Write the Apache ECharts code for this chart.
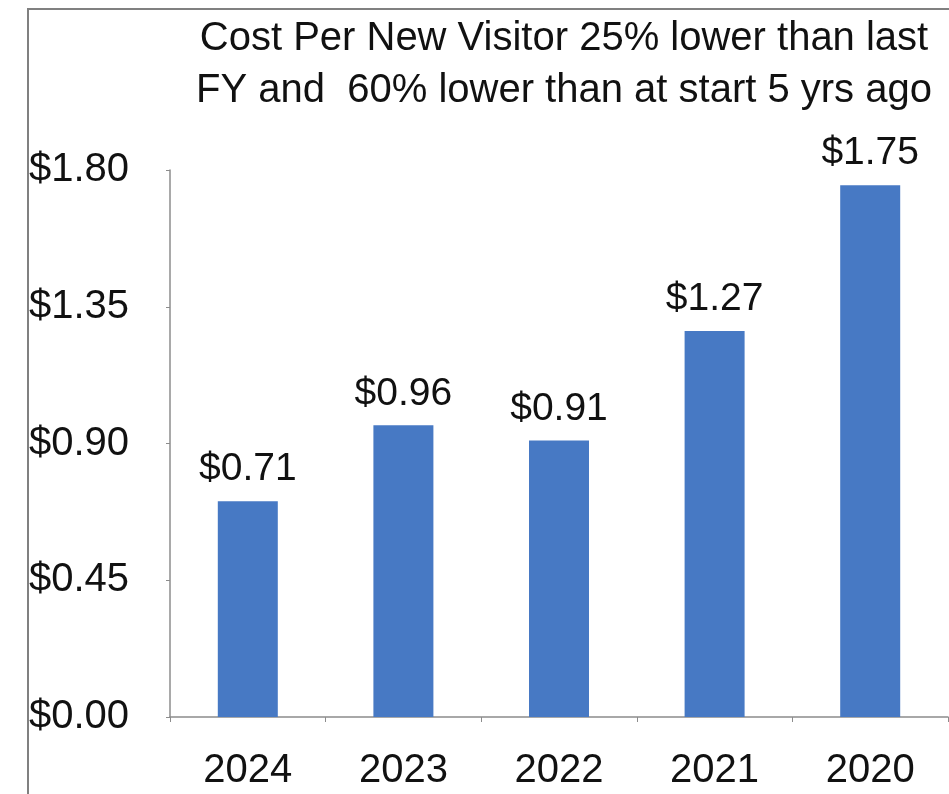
<!DOCTYPE html>
<html>
<head>
<meta charset="utf-8">
<script src="https://cdn.jsdelivr.net/npm/echarts@6/dist/echarts.min.js"></script>
<style>
html,body{margin:0;padding:0;background:#fff;}
#c{width:949px;height:794px;}
</style>
</head>
<body>
<div id="c"></div>
<script>
var categories = ['2024', '2023', '2022', '2021', '2020'];
var costPerVisitor = [0.71, 0.96, 0.91, 1.27, 1.75];
var yTicks = [0, 0.45, 0.9, 1.35, 1.8];
var titleText = 'Cost Per New Visitor 25% lower than last\nFY and  60% lower than at start 5 yrs ago';

var FONT = 'Liberation Sans, Arial, Helvetica, sans-serif';
var chart = echarts.init(document.getElementById('c'), null, {renderer: 'canvas'});
chart.setOption({
  backgroundColor: '#ffffff',
  animation: false,
  title: {
    text: titleText,
    left: 559,
    textAlign: 'center',
    top: 8,
    textStyle: {fontFamily: FONT, fontSize: 40, fontWeight: 'normal', color: '#111', lineHeight: 52}
  },
  graphic: [{
    type: 'rect',
    shape: {x: 28, y: 9, width: 1000, height: 1000},
    style: {fill: 'none', stroke: '#808080', lineWidth: 2},
    silent: true
  }],
  grid: {left: 170, right: 1, top: 170, bottom: 77, containLabel: false},
  xAxis: {
    type: 'category',
    data: categories,
    axisLine: {lineStyle: {color: '#8c8c8c', width: 1.5}},
    axisTick: {show: true, length: 5, alignWithLabel: false, lineStyle: {color: '#8c8c8c'}},
    axisLabel: {fontFamily: FONT, fontSize: 40, color: '#111', margin: 34}
  },
  yAxis: {
    type: 'value',
    min: 0,
    max: 1.8,
    interval: 0.45,
    splitLine: {show: false},
    axisLine: {show: true, lineStyle: {color: '#8c8c8c', width: 1.5}},
    axisTick: {show: true, length: 4, lineStyle: {color: '#8c8c8c'}},
    axisLabel: {
      fontFamily: FONT, fontSize: 40, color: '#111', align: 'left', margin: 141,
      formatter: function (v) {
        var i = yTicks.findIndex(function (t) { return Math.abs(t - v) < 1e-6; });
        return '$' + (i >= 0 ? yTicks[i] : v).toFixed(2);
      }
    }
  },
  series: [{
    type: 'bar',
    data: costPerVisitor,
    barWidth: 60,
    itemStyle: {color: '#4779c4'},
    label: {
      show: true,
      position: 'top',
      distance: 12,
      fontFamily: FONT,
      fontSize: 39,
      color: '#111',
      formatter: function (p) { return '$' + p.value.toFixed(2); }
    }
  }]
});
</script>
</body>
</html>
